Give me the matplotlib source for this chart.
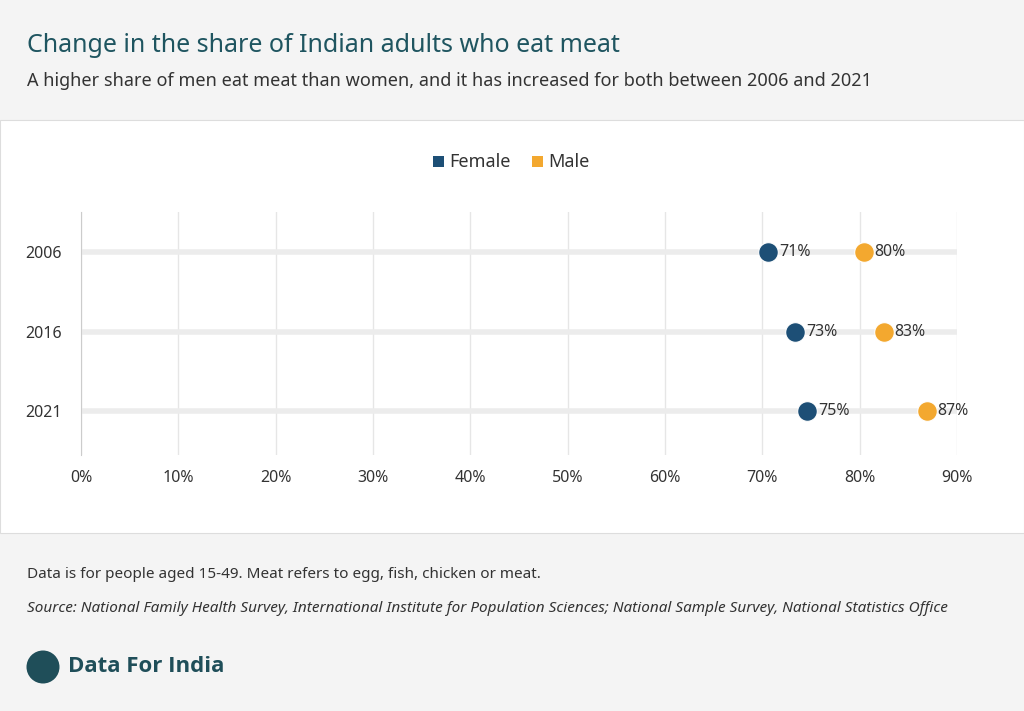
import matplotlib
matplotlib.use("Agg")
import matplotlib.pyplot as plt
from matplotlib.patches import Rectangle, Circle

plt.rcParams['font.family'] = ['Noto Sans', 'DejaVu Sans']

years = ["2006", "2016", "2021"]
female = [70.6, 73.4, 74.6]
male = [80.4, 82.5, 86.9]
female_labels = ["71%", "73%", "75%"]
male_labels = ["80%", "83%", "87%"]
xticks = [0, 10, 20, 30, 40, 50, 60, 70, 80, 90]

W, H = 1024, 711
fig = plt.figure(figsize=(W/100, H/100), dpi=100)
fig.patch.set_facecolor('#f4f4f4')
fig.add_artist(Rectangle((0, 1-533/H), 1, (533-120)/H, transform=fig.transFigure,
                         facecolor='white', edgecolor='#dddddd', lw=0.8, zorder=0))

fig.text(27/W, 1-45/H, "Change in the share of Indian adults who eat meat", fontsize=18,
         color='#1f5560', va='center', ha='left')
fig.text(27/W, 1-81/H, "A higher share of men eat meat than women, and it has increased for both between 2006 and 2021",
         fontsize=13, color='#333333', va='center', ha='left')

ax = fig.add_axes([81/W, 1-455/H, 876/W, 243/H])
ax.set_facecolor('none')
yp = list(range(len(years)))
fcol = '#1d4f76'
mcol = '#f3a82f'
for i in yp:
    ax.plot([0, 90], [i, i], color='#ececec', lw=4, zorder=1, solid_capstyle='butt')
ax.scatter(female, yp, s=200, color=fcol, zorder=3, edgecolor='white', lw=0.8)
ax.scatter(male, yp, s=200, color=mcol, zorder=3, edgecolor='white', lw=0.8)
for i in yp:
    ax.text(female[i] + 1.1, i, female_labels[i], va='center', ha='left', fontsize=11.5, color='#333333', zorder=4)
    ax.text(male[i] + 1.1, i, male_labels[i], va='center', ha='left', fontsize=11.5, color='#333333', zorder=4)
ax.set_xlim(0, 90)
ax.set_ylim(2.55, -0.5)
ax.set_xticks(xticks)
ax.set_xticklabels([f"{t}%" for t in xticks])
ax.set_yticks(yp)
ax.set_yticklabels(years)
ax.grid(axis='x', color='#e6e6e6', lw=1)
ax.set_axisbelow(True)
for s in ['top', 'right', 'bottom']:
    ax.spines[s].set_visible(False)
ax.spines['left'].set_color('#cccccc')
ax.tick_params(length=0, labelsize=11.5, colors='#333333')
ax.tick_params(axis='x', pad=11)
ax.tick_params(axis='y', pad=14)

fig.add_artist(Rectangle((433/W, 1-167/H), 11/W, 11/H, transform=fig.transFigure, facecolor=fcol))
fig.text(449/W, 1-162/H, "Female", fontsize=13, color='#333333', va='center')
fig.add_artist(Rectangle((532/W, 1-167/H), 11/W, 11/H, transform=fig.transFigure, facecolor=mcol))
fig.text(548/W, 1-162/H, "Male", fontsize=13, color='#333333', va='center')

fig.text(27/W, 1-575/H, "Data is for people aged 15-49. Meat refers to egg, fish, chicken or meat.",
         fontsize=11, color='#333333', va='center')
fig.text(27/W, 1-608/H, "Source: National Family Health Survey, International Institute for Population Sciences; National Sample Survey, National Statistics Office",
         fontsize=11, color='#333333', va='center', style='italic')

fig.add_artist(Circle((0.43, (H-667)/100), 0.165, transform=fig.dpi_scale_trans, facecolor='#1f4e59'))
fig.text(68/W, 1-667/H, "Data For India", fontsize=16, color='#1f4e59', va='center',
         weight='bold', family=['Open Sans', 'DejaVu Sans'])

fig.savefig("out.png", dpi=100, facecolor=fig.get_facecolor())
